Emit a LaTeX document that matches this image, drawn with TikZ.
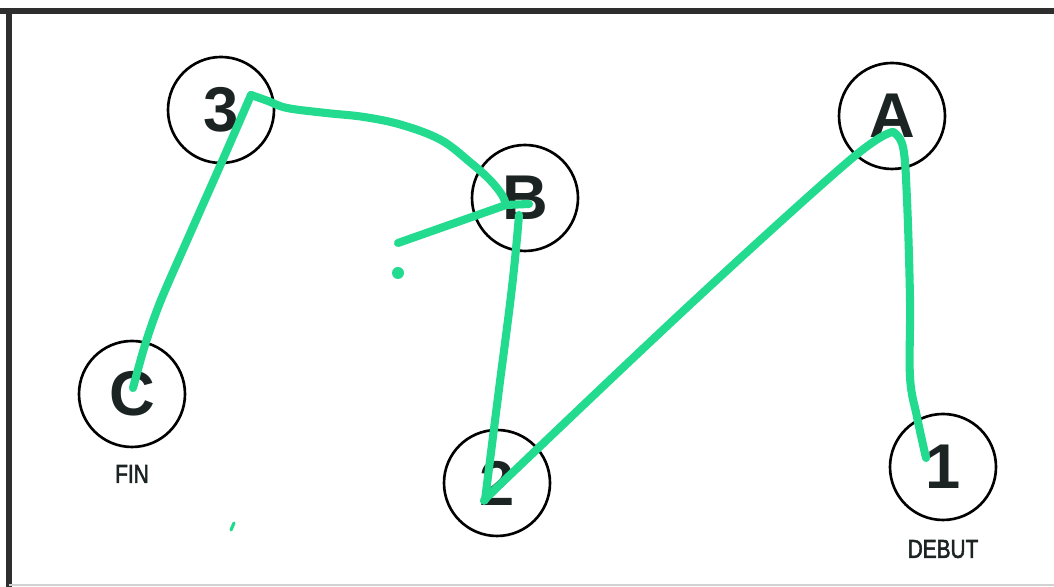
\documentclass[tikz,border=0pt]{standalone}
\usepackage{fontspec}
\setmainfont{Liberation Sans}
\newfontfamily\narrowfont[FakeStretch=0.8, FakeBold=2]{Liberation Sans}
\usetikzlibrary{positioning}
\definecolor{marker}{HTML}{22DB8E}
\definecolor{ink}{HTML}{1C2323}
\definecolor{framegray}{HTML}{2E2E2E}

\begin{document}
\begin{tikzpicture}[
    stop/.style={circle, draw=black, line width=0.75pt, minimum size=1.06cm,
        inner sep=0pt, font=\fontsize{18}{18}\selectfont\bfseries, text=ink},
    tag/.style={font=\narrowfont\fontsize{7.4}{7.4}\selectfont, text=ink, inner sep=0pt},
    route/.style={draw=marker, line width=2.3pt, line cap=round, line join=round},
    rim/.style={draw=framegray, line width=1.5pt}
]
\useasboundingbox (0,0) rectangle (10.54,5.87);

% =====================================================
% FRAME (scanned page edge)
% =====================================================
\draw[rim] (0,5.76) -- (10.54,5.76);
\draw[rim] (0.09,5.76) -- (0.09,0);
\draw[draw=gray!35, line width=0.4pt] (0.09,0.02) -- (10.54,0.02);

% =====================================================
% STOPS
% =====================================================
\node[stop] (c3) at (2.21,4.77) {3};
\node[stop] (cB) at (5.25,3.89) {B};
\node[stop] (cA) at (8.92,4.71) {A};
\node[stop] (cC) at (1.32,1.93) {C};
\node[stop] (c2) at (4.97,1.04) {2};
\node[stop] (c1) at (9.43,1.20) {1};

% Start / end tags
\node[tag, below=0.16cm of cC] (fin) {FIN};
\node[tag, below=0.18cm of c1] (debut) {DEBUT};

% =====================================================
% HAND-DRAWN ROUTE (1 -> A -> 2 -> B -> 3 -> C)
% =====================================================
\coordinate (oneEnd) at ([shift={(-0.17,0.09)}]c1.center);
\coordinate (aTip)   at ([shift={(0.01,-0.16)}]cA.center);
\coordinate (twoEnd) at ([shift={(-0.12,-0.17)}]c2.center);
\coordinate (bFoot)  at ([shift={(-0.06,-0.17)}]cB.center);
\coordinate (bKnot)  at ([shift={(-0.19,-0.07)}]cB.center);
\coordinate (bHook)  at ([shift={(0.04,-0.06)}]cB.center);
\coordinate (tTip)   at ([shift={(0.30,0.15)}]c3.center);
\coordinate (cEnd)   at ([shift={(0.01,0.06)}]cC.center);
\coordinate (loose)  at (3.98,3.44);

% 1 -> A
\draw[route] plot[smooth, tension=0.6] coordinates
    {(oneEnd) (9.17,1.70) (9.10,2.10) (9.10,2.87) (9.07,3.87) (9.03,4.40) (aTip)};
% A -> 2
\draw[route] plot[smooth, tension=0.6] coordinates
    {(aTip) (8.50,4.27) (6.95,2.87) (5.10,1.12) (twoEnd)};
% 2 -> B
\draw[route] plot[smooth, tension=0.7] coordinates
    {(twoEnd) (4.98,1.90) (5.12,3.00) (bFoot)};
\draw[route] (bKnot) -- (bHook);
% stray stroke left of B
\draw[route] (bKnot) -- (loose);
% B -> 3
\draw[route] plot[smooth, tension=0.6] coordinates
    {(bKnot) (5.02,3.92) (4.90,4.07) (4.71,4.24) (4.41,4.47) (4.02,4.62)
     (3.64,4.70) (3.26,4.74) (2.87,4.79) (2.68,4.86) (tTip)};
% 3 -> C
\draw[route] plot[smooth, tension=0.5] coordinates
    {(tTip) (2.24,4.30) (1.93,3.60) (1.61,2.87) (1.45,2.42) (cEnd)};

% Marker specks
\fill[marker] (3.98,3.14) circle (0.06);
\draw[marker, line width=0.9pt, line cap=round] (2.31,0.57) -- (2.34,0.64);

\end{tikzpicture}
\end{document}
